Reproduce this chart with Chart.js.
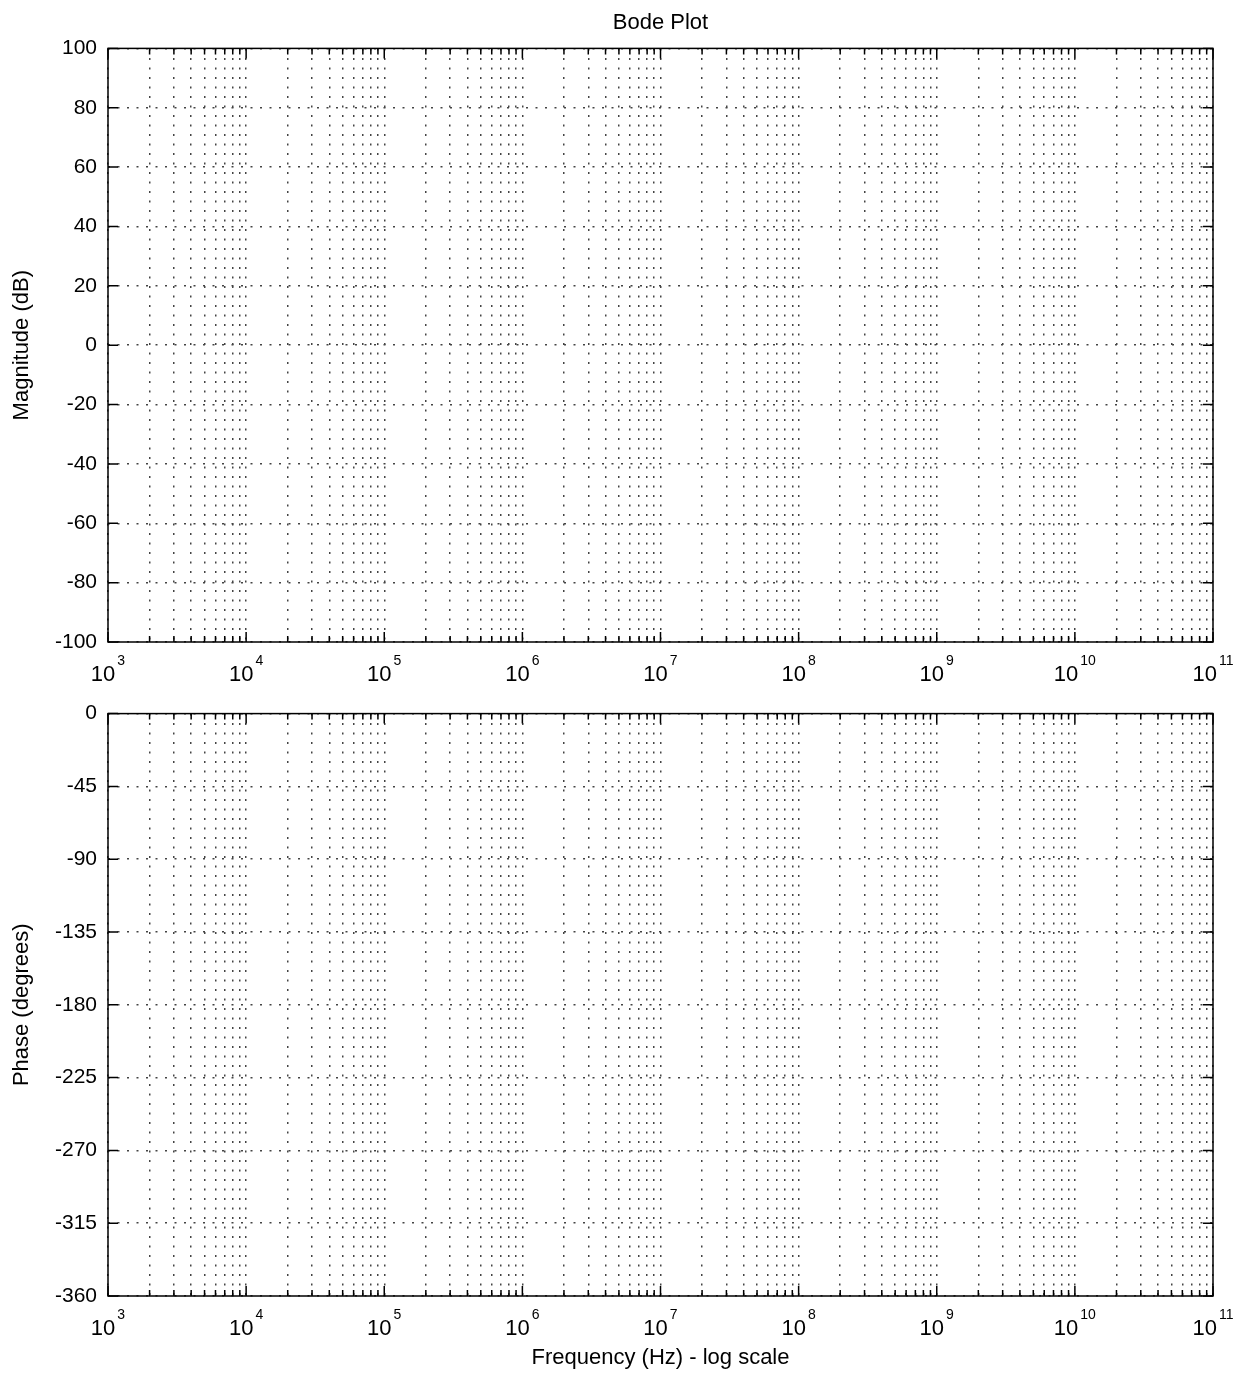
<!DOCTYPE html>
<html>
<head>
<meta charset="utf-8">
<title>Bode Plot</title>
<script src="https://cdn.jsdelivr.net/npm/chart.js@4.4.1/dist/chart.umd.min.js"></script>
<style>
  body { margin: 0; background: #fff; }
  #wrap { position: relative; width: 1245px; height: 1376px; }
  canvas { position: absolute; left: 0; }
</style>
</head>
<body>
<div id="wrap">
  <canvas id="magChart" width="1245" height="690" style="top:0"></canvas>
  <canvas id="phaseChart" width="1245" height="686" style="top:690px"></canvas>
</div>
<script>
// axis data
const freqExponents = [3, 4, 5, 6, 7, 8, 9, 10, 11];
const minorSteps = [2, 3, 4, 5, 6, 7, 8, 9];
const magTicks = [100, 80, 60, 40, 20, 0, -20, -40, -60, -80, -100];
const phaseTicks = [0, -45, -90, -135, -180, -225, -270, -315, -360];
const chartTitle = 'Bode Plot';
const magLabel = 'Magnitude (dB)';
const phaseLabel = 'Phase (degrees)';
const freqLabel = 'Frequency (Hz) - log scale';

const family = '"Liberation Sans", Arial, Helvetica, sans-serif';
const gridColor = '#444';
const gridDash = [2, 7.5];

function freqTickList() {
  const list = [];
  freqExponents.forEach((e, i) => {
    const base = Math.pow(10, e);
    list.push({ value: base, major: true });
    if (i < freqExponents.length - 1) {
      minorSteps.forEach(m => list.push({ value: m * base, major: false }));
    }
  });
  return list;
}

// frame, inner tick marks and 10^n labels
const frameTicks = {
  id: 'frameTicks',
  afterDraw(chart) {
    const { ctx, chartArea: a, scales: { x, y } } = chart;
    ctx.save();
    ctx.strokeStyle = '#000';
    ctx.lineWidth = 1.5;
    ctx.beginPath();
    x.ticks.forEach(t => {
      const px = x.getPixelForValue(t.value);
      const len = t.major ? 10 : 6;
      ctx.moveTo(px, a.bottom); ctx.lineTo(px, a.bottom - len);
      ctx.moveTo(px, a.top); ctx.lineTo(px, a.top + len);
    });
    y.ticks.forEach(t => {
      const py = y.getPixelForValue(t.value);
      ctx.moveTo(a.left, py); ctx.lineTo(a.left + 10, py);
      ctx.moveTo(a.right, py); ctx.lineTo(a.right - 10, py);
    });
    ctx.stroke();
    ctx.strokeRect(a.left, a.top, a.right - a.left, a.bottom - a.top);

    ctx.fillStyle = '#000';
    ctx.textAlign = 'left';
    ctx.textBaseline = 'alphabetic';
    x.ticks.filter(t => t.major).forEach(t => {
      const exp = String(Math.round(Math.log10(t.value)));
      ctx.font = '22px ' + family;
      const wb = ctx.measureText('10').width;
      ctx.font = '14px ' + family;
      const we = ctx.measureText(exp).width;
      const px = x.getPixelForValue(t.value);
      const gap = 2;
      const start = px - (wb + gap + we) / 2;
      const base = a.bottom + 39;
      ctx.font = '22px ' + family;
      ctx.fillText('10', start, base);
      ctx.font = '14px ' + family;
      ctx.fillText(exp, start + wb + gap, base - 16);
    });
    ctx.restore();
  }
};

function makeX(height, withTitle) {
  return {
    type: 'logarithmic',
    min: Math.pow(10, freqExponents[0]),
    max: Math.pow(10, freqExponents[freqExponents.length - 1]),
    afterBuildTicks: s => { s.ticks = freqTickList(); },
    afterFit: s => { s.height = height; },
    grid: { color: gridColor, lineWidth: 1.5, drawTicks: false },
    border: { display: false, dash: gridDash },
    ticks: { display: false, autoSkip: false },
    title: {
      display: withTitle, text: freqLabel, color: '#000',
      font: { size: 22, family }, padding: { top: 0, bottom: 5 }
    }
  };
}

function makeY(tickList, label) {
  return {
    type: 'linear',
    min: Math.min(...tickList),
    max: Math.max(...tickList),
    afterBuildTicks: s => { s.ticks = tickList.map(v => ({ value: v })); },
    afterFit: s => { s.width = 108; },
    grid: { color: gridColor, lineWidth: 1.5, drawTicks: false },
    border: { display: false, dash: gridDash },
    ticks: { padding: 11, color: '#000', font: { size: 21, family }, callback: v => String(v) },
    title: {
      display: true, text: label, color: '#000',
      font: { size: 22, family }, padding: { top: 9, bottom: 0 }
    }
  };
}

new Chart(document.getElementById('magChart'), {
  type: 'line',
  data: { datasets: [] },
  options: {
    responsive: false,
    animation: false,
    layout: { padding: { left: 0, right: 32, top: 0, bottom: 0 } },
    plugins: {
      legend: { display: false },
      tooltip: { enabled: false },
      title: {
        display: true, text: chartTitle, fullSize: false, color: '#000',
        font: { size: 22, weight: 'normal', family }, padding: { top: 10, bottom: 12 }
      }
    },
    scales: { x: makeX(48, false), y: makeY(magTicks, magLabel) }
  },
  plugins: [frameTicks]
});

new Chart(document.getElementById('phaseChart'), {
  type: 'line',
  data: { datasets: [] },
  options: {
    responsive: false,
    animation: false,
    layout: { padding: { left: 0, right: 32, top: 16, bottom: 0 } },
    plugins: {
      legend: { display: false },
      tooltip: { enabled: false }
    },
    scales: { x: makeX(80, true), y: makeY(phaseTicks, phaseLabel) }
  },
  plugins: [frameTicks]
});
</script>
</body>
</html>
